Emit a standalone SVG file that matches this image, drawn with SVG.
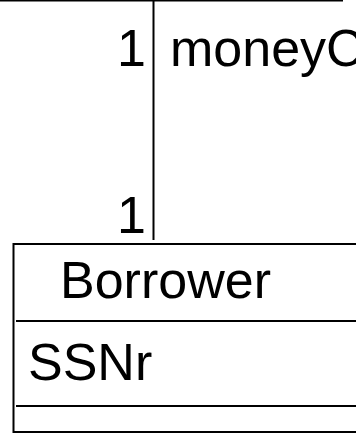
<svg xmlns="http://www.w3.org/2000/svg" width="356" height="433" viewBox="0 0 356 433">
  <style>
    .edge { stroke: #000; stroke-width: 2; fill: none; }
    .box { stroke: #000; stroke-width: 2; fill: #fff; }
    .sep { stroke: #000; stroke-width: 2; }
    .lbl { font-family: "Liberation Sans", Arial, sans-serif; font-size: 52px; fill: #000; }
  </style>

  <!-- bottom edge of the class above -->
  <g id="node-upper">
    <line class="sep" x1="0" y1="0.5" x2="343" y2="0.5"/>
  </g>

  <!-- association between the two classes -->
  <g id="connectors">
    <line class="edge" x1="153.5" y1="0" x2="153.5" y2="240"/>
    <text class="lbl" x="146" y="66" text-anchor="end">1</text>
    <text class="lbl" x="170" y="66">moneyC</text>
    <text class="lbl" x="146" y="233" text-anchor="end">1</text>
  </g>

  <!-- Borrower class -->
  <g id="node-borrower">
    <rect class="box" x="13.5" y="244" width="360" height="188"/>
    <line class="sep" x1="16" y1="321" x2="356" y2="321"/>
    <line class="sep" x1="16" y1="406" x2="356" y2="406"/>
    <text class="lbl" x="60" y="298">Borrower</text>
    <text class="lbl" x="28" y="380">SSNr</text>
  </g>
</svg>
